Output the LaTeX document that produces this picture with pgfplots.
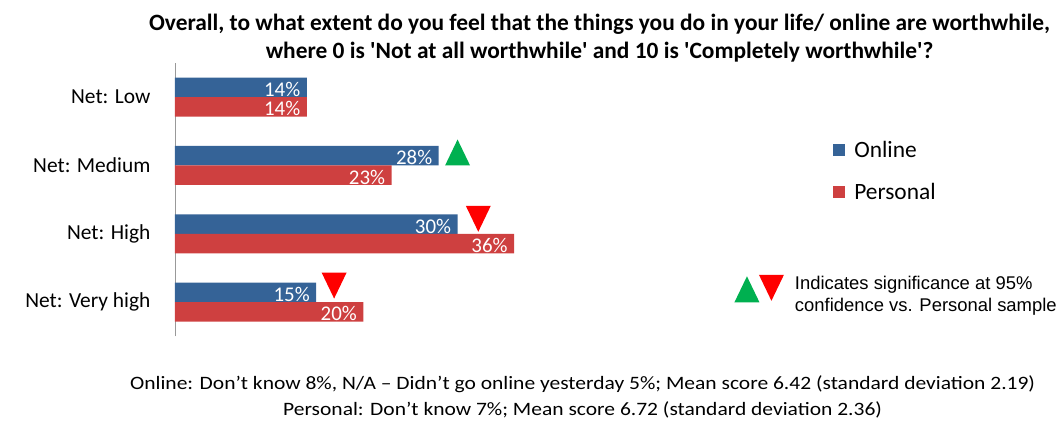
\documentclass[border=0pt]{standalone}
\usepackage{pgfplots}
\pgfplotsset{compat=1.18}
\usetikzlibrary{calc}
\usepackage{fontspec}
\setmainfont{Carlito}
\newfontfamily\arialfont{Liberation Sans}
\definecolor{onlineblue}{HTML}{356397}
\definecolor{personalred}{HTML}{CE4040}
\definecolor{siggreen}{HTML}{00B050}
\definecolor{sigred}{HTML}{FF0000}
\pgfdeclareplotmark{sigup}{\pgfpathmoveto{\pgfqpoint{-12.5bp}{-13bp}}\pgfpathlineto{\pgfqpoint{12.5bp}{-13bp}}\pgfpathlineto{\pgfqpoint{0bp}{13bp}}\pgfpathclose\pgfusepathqfill}
\pgfdeclareplotmark{sigdown}{\pgfpathmoveto{\pgfqpoint{-12.5bp}{13bp}}\pgfpathlineto{\pgfqpoint{12.5bp}{13bp}}\pgfpathlineto{\pgfqpoint{0bp}{-13bp}}\pgfpathclose\pgfusepathqfill}
\begin{document}
\begin{tikzpicture}[x=1bp,y=1bp]
\begin{axis}[
  scale only axis, width=471.5bp, height=273.6bp,
  xmin=0, xmax=50, ymin=-0.5, ymax=3.5,
  xbar, bar width=19.5bp,
  axis x line=none,
  axis y line*=left,
  y axis line style={draw=gray!80, -},
  ytick={0,1,2,3},
  yticklabels={Net: Very high, Net: High, Net: Medium, Net: Low},
  yticklabel style={font=\fontsize{21.5}{24}\selectfont, xshift=-21bp},
  major tick length=0pt,
  clip=false,
  /pgf/number format/assume math mode=true,
  nodes near coords={\pgfmathprintnumber{\pgfplotspointmeta}\%},
  point meta=x,
  every node near coord/.append style={anchor=east, text=white, font=\fontsize{21}{22}\selectfont, yshift=-2bp, xshift=-3bp},
  legend style={draw=none, fill=none, at={(1.397,0.7206)}, anchor=north west,
    font=\fontsize{23.5}{26}\selectfont, row sep=20bp, inner sep=0pt},
  legend cell align=left,
  legend image code/.code={\fill[#1] (0bp,-6bp) rectangle (12bp,6bp);},
]
\coordinate (AX) at (rel axis cs:0,0);
\addplot[fill=onlineblue, draw=none, bar shift=9.75bp] coordinates {(14,3) (28,2) (30,1) (15,0)};
\addlegendentry{\hspace{7bp}Online}
\addplot[fill=personalred, draw=none, bar shift=-9.75bp] coordinates {(14,3) (23,2) (36,1) (20,0)};
\addlegendentry{\hspace{7bp}Personal}
\addplot[only marks, mark=sigup, color=siggreen, nodes near coords={}, forget plot] coordinates {(30.0,2.19)};
\addplot[only marks, mark=sigdown, color=sigred, nodes near coords={}, forget plot] coordinates {(32.2,1.22) (16.9,0.243)};
\end{axis}
\begin{scope}[shift={($(AX)+(-175,-84.4)$)}]
\path (0,0) rectangle (1060,421);
\node[font=\bfseries\fontsize{23.5}{28}\selectfont, align=center] at (600,383) {Overall, to what extent do you feel that the things you do in your life/ online are worthwhile,\\where 0 is \textquotesingle Not at all worthwhile\textquotesingle{} and 10 is \textquotesingle Completely worthwhile\textquotesingle?};
\node[font=\fontsize{19}{26}\selectfont, align=center, xscale=1.137, transform shape] at (583,24) {Online: Don’t know 8\%, N/A – Didn’t go online yesterday 5\%; Mean score 6.42 (standard deviation 2.19)\\Personal: Don’t know 7\%; Mean score 6.72 (standard deviation 2.36)};
\fill[siggreen] (735,118.5) -- (760,118.5) -- (747.5,144.5) -- cycle;
\fill[sigred] (759.5,146) -- (784.5,146) -- (772,120) -- cycle;
\node[anchor=west, font=\arialfont\fontsize{18.5}{23}\selectfont, align=left] at (792,125) {Indicates significance at 95\%\\confidence vs. Personal sample};
\end{scope}
\end{tikzpicture}
\end{document}
